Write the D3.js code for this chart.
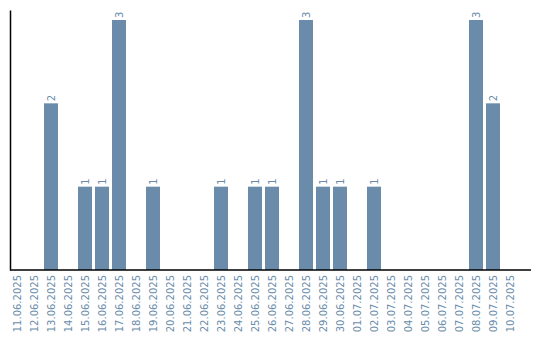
<!DOCTYPE html>
<html>
<head>
<meta charset="utf-8">
<script src="https://cdnjs.cloudflare.com/ajax/libs/d3/7.8.5/d3.min.js"></script>
<style>
  body { margin: 0; background: #fff; }
  text { font-family: "DejaVu Sans", sans-serif; }
</style>
</head>
<body>
<div id="chart"></div>
<script>
var dates = ["11.06.2025", "12.06.2025", "13.06.2025", "14.06.2025", "15.06.2025",
    "16.06.2025", "17.06.2025", "18.06.2025", "19.06.2025", "20.06.2025",
    "21.06.2025", "22.06.2025", "23.06.2025", "24.06.2025", "25.06.2025",
    "26.06.2025", "27.06.2025", "28.06.2025", "29.06.2025", "30.06.2025",
    "01.07.2025", "02.07.2025", "03.07.2025", "04.07.2025", "05.07.2025",
    "06.07.2025", "07.07.2025", "08.07.2025", "09.07.2025", "10.07.2025"];
var counts = [0, 0, 2, 0, 1, 1, 3, 0, 1, 0,
    0, 0, 1, 0, 1, 1, 0, 3, 1, 1,
    0, 1, 0, 0, 0, 0, 0, 3, 2, 0];

var svgWidth = 540;
var svgHeight = 340;
var barColor = "#6a8caa";

var plotLeft = 10, plotTop = 10, plotBottom = 270, axisRight = 531;

var svg = d3.select("#chart")
    .append("svg")
    .attr("width", svgWidth)
    .attr("height", svgHeight);

var data = dates.map(function(d, i) { return { date: d, count: counts[i] }; });

var x = d3.scaleBand()
    .domain(dates)
    .range([plotLeft, 517])
    .paddingInner(3 / 17)
    .paddingOuter(0);

var y = d3.scaleLinear()
    .domain([0, 3.12])
    .range([plotBottom, plotTop]);

// bars
svg.selectAll(".bar")
    .data(data.filter(d => d.count > 0))
    .enter()
    .append("rect")
    .attr("class", "bar")
    .attr("x", d => x(d.date))
    .attr("y", d => y(d.count))
    .attr("width", x.bandwidth())
    .attr("height", d => y(0) - y(d.count))
    .attr("fill", barColor);

// value labels
svg.selectAll(".val")
    .data(data.filter(d => d.count > 0))
    .enter()
    .append("text")
    .attr("class", "val")
    .attr("transform", d => `translate(${x(d.date) + x.bandwidth() / 2 + 3.5}, ${y(d.count) - 2}) rotate(-90)`)
    .attr("text-anchor", "start")
    .attr("font-size", 10)
    .attr("fill", barColor)
    .text(d => d.count);

// y axis line
svg.append("g")
    .attr("transform", `translate(${plotLeft}, 0)`)
    .call(d3.axisLeft(y).tickValues([]).tickSizeOuter(0))
    .select(".domain")
    .attr("stroke", "#000")
    .attr("stroke-width", 1.5);

// x axis
var xAxis = svg.append("g")
    .attr("transform", `translate(0, ${plotBottom})`)
    .call(d3.axisBottom(x).tickSize(0).tickSizeOuter(0));

xAxis.select(".domain").remove();
xAxis.append("line")
    .attr("x1", plotLeft)
    .attr("x2", axisRight)
    .attr("stroke", "#000")
    .attr("stroke-width", 1.5);

xAxis.selectAll(".tick text")
    .attr("font-family", "DejaVu Sans, sans-serif")
    .attr("font-size", 10)
    .attr("fill", barColor)
    .attr("text-anchor", "end")
    .attr("transform", "rotate(-90)")
    .attr("x", -5)
    .attr("y", 0)
    .attr("dy", "0.35em");
</script>
</body>
</html>
